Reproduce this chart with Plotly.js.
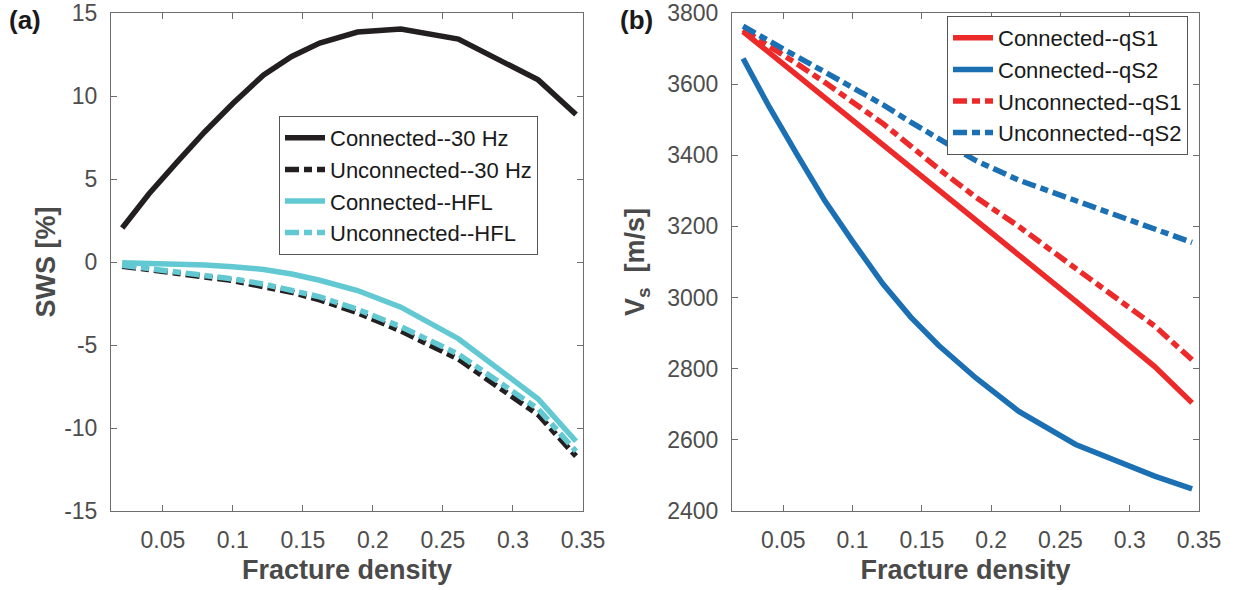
<!DOCTYPE html>
<html>
<head>
<meta charset="utf-8">
<script src="https://cdn.plot.ly/plotly-3.0.1.min.js"></script>
<style>html,body{margin:0;padding:0;background:#fff}#chart{width:1238px;height:590px}</style>
</head>
<body>
<div id="chart"></div>
<script>
// Fracture density (x) shared by all curves
const density = [0.021, 0.04, 0.06, 0.08, 0.10, 0.122, 0.142, 0.162, 0.189, 0.22, 0.261, 0.318, 0.345];

// Panel (a): SWS [%]
const swsConnected30Hz   = [2.05, 4.1, 6.0, 7.85, 9.55, 11.27, 12.38, 13.19, 13.85, 14.03, 13.43, 10.97, 8.89];
const swsUnconnected30Hz = [-0.25, -0.48, -0.7, -0.9, -1.12, -1.45, -1.82, -2.28, -3.05, -4.15, -5.85, -9.2, -11.7];
const swsConnectedHFL    = [-0.05, -0.08, -0.12, -0.18, -0.28, -0.45, -0.72, -1.1, -1.72, -2.72, -4.62, -8.25, -10.8];
const swsUnconnectedHFL  = [-0.2, -0.4, -0.6, -0.8, -1.02, -1.33, -1.68, -2.1, -2.85, -3.9, -5.55, -8.85, -11.4];

// Panel (b): Vs [m/s]
const vsConnectedQS1   = [3748, 3688, 3625, 3562, 3499, 3430, 3366, 3302, 3216, 3118, 2990, 2806, 2704];
const vsConnectedQS2   = [3672, 3535, 3402, 3272, 3158, 3038, 2945, 2866, 2774, 2680, 2587, 2498, 2462];
const vsUnconnectedQS1 = [3753, 3707, 3657, 3605, 3552, 3489, 3426, 3362, 3282, 3200, 3082, 2920, 2825];
const vsUnconnectedQS2 = [3763, 3720, 3677, 3634, 3590, 3542, 3493, 3447, 3385, 3330, 3273, 3190, 3155];

const xTicks = [0.05, 0.1, 0.15, 0.2, 0.25, 0.3, 0.35];
const xTickText = ['0.05', '0.1', '0.15', '0.2', '0.25', '0.3', '0.35'];
const yTicksA = [-15, -10, -5, 0, 5, 10, 15];
const yTickTextA = ['-15', '-10', '-5', '0', '5', '10', '15'];
const yTicksB = [2400, 2600, 2800, 3000, 3200, 3400, 3600, 3800];
const yTickTextB = ['2400', '2600', '2800', '3000', '3200', '3400', '3600', '3800'];

const FONT = 'Liberation Sans, Arial, Helvetica, sans-serif';
const BLACK = '#231f20', CYAN = '#62c9d3', RED = '#ed2a2a', BLUE = '#1b70b3';
const DASHDOT = '14px,5px,8px,5px';
const LW = 5.5;

function tr(y, name, color, dash, xa, ya, leg) {
  return {x: density, y: y, name: name, type: 'scatter', mode: 'lines',
    line: {color: color, width: LW, dash: dash}, xaxis: xa, yaxis: ya, legend: leg};
}

const data = [
  tr(swsConnected30Hz, 'Connected--30 Hz', BLACK, 'solid', 'x', 'y', 'legend'),
  tr(swsUnconnected30Hz, 'Unconnected--30 Hz', BLACK, DASHDOT, 'x', 'y', 'legend'),
  tr(swsConnectedHFL, 'Connected--HFL', CYAN, 'solid', 'x', 'y', 'legend'),
  tr(swsUnconnectedHFL, 'Unconnected--HFL', CYAN, DASHDOT, 'x', 'y', 'legend'),
  tr(vsConnectedQS1, 'Connected--qS1', RED, 'solid', 'x2', 'y2', 'legend2'),
  tr(vsConnectedQS2, 'Connected--qS2', BLUE, 'solid', 'x2', 'y2', 'legend2'),
  tr(vsUnconnectedQS1, 'Unconnected--qS1', RED, DASHDOT, 'x2', 'y2', 'legend2'),
  tr(vsUnconnectedQS2, 'Unconnected--qS2', BLUE, DASHDOT, 'x2', 'y2', 'legend2')
];

const AX = '#6e6e6e', TICKC = '#4d4d4d', TITLEC = '#4a4a4a';
function xax(domain, anchor) {
  return {domain: domain, anchor: anchor, range: [0.013, 0.35], tickvals: xTicks, ticktext: xTickText,
    ticks: 'inside', ticklen: 6, tickcolor: AX, tickwidth: 1, showline: true, linecolor: AX, linewidth: 1,
    mirror: 'ticks', showgrid: false, zeroline: false, ticklabelstandoff: 8,
    tickfont: {family: FONT, size: 23, color: TICKC},
    title: {text: 'Fracture density', standoff: 8, font: {family: FONT, size: 27, color: TITLEC, weight: 'bold'}}};
}
function yax(domain, anchor, range, ticks, text, title, standoff) {
  return {domain: domain, anchor: anchor, range: range, tickvals: ticks, ticktext: text,
    ticks: 'inside', ticklen: 6, tickcolor: AX, tickwidth: 1, showline: true, linecolor: AX, linewidth: 1,
    mirror: 'ticks', showgrid: false, zeroline: false, ticklabelstandoff: 8,
    tickfont: {family: FONT, size: 23, color: TICKC},
    title: {text: title, standoff: standoff, font: {family: FONT, size: 27, color: TITLEC, weight: 'bold'}}};
}

const yDom = [1 - 511 / 590, 1 - 13 / 590];
const layout = {
  width: 1238, height: 590, margin: {l: 0, r: 0, t: 0, b: 0},
  paper_bgcolor: '#fff', plot_bgcolor: '#fff', showlegend: true,
  font: {family: FONT, color: '#222'},
  xaxis: xax([111 / 1238, 583 / 1238], 'y'),
  yaxis: yax(yDom, 'x', [-15, 15], yTicksA, yTickTextA, 'SWS [%]', 0),
  xaxis2: xax([732 / 1238, 1199 / 1238], 'y2'),
  yaxis2: yax(yDom, 'x2', [2400, 3800], yTicksB, yTickTextB, 'V<sub>s</sub>  [m/s]', 14),
  legend: {x: 279 / 1238, y: 1 - 116 / 590, xanchor: 'left', yanchor: 'top', bgcolor: '#fff',
    bordercolor: '#555', borderwidth: 1, font: {family: FONT, size: 22, color: '#1a1a1a'}, itemwidth: 40, tracegroupgap: 0},
  legend2: {x: 947 / 1238, y: 1 - 16 / 590, xanchor: 'left', yanchor: 'top', bgcolor: '#fff',
    bordercolor: '#555', borderwidth: 1, font: {family: FONT, size: 22, color: '#1a1a1a'}, itemwidth: 40, tracegroupgap: 0},
  annotations: [
    {text: '<b>(a)</b>', x: 25 / 1238, y: 1 - 20 / 590, xref: 'paper', yref: 'paper', showarrow: false,
      xanchor: 'center', yanchor: 'middle', font: {family: FONT, size: 26, color: '#1a1a1a'}},
    {text: '<b>(b)</b>', x: 636 / 1238, y: 1 - 20 / 590, xref: 'paper', yref: 'paper', showarrow: false,
      xanchor: 'center', yanchor: 'middle', font: {family: FONT, size: 26, color: '#1a1a1a'}}
  ]
};

Plotly.newPlot('chart', data, layout, {displayModeBar: false, staticPlot: true});
</script>
</body>
</html>
